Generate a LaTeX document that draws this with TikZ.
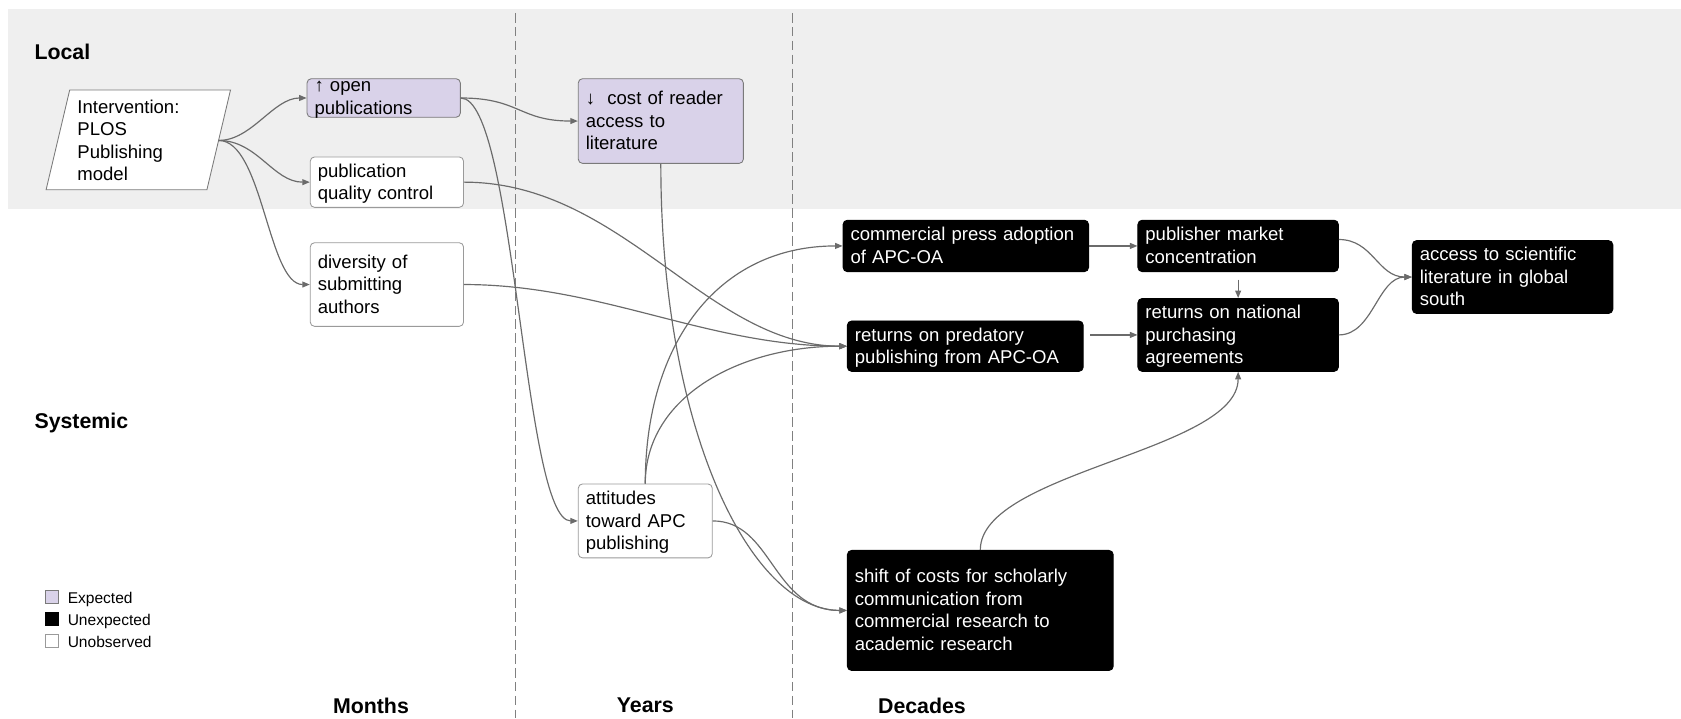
\documentclass[tikz,border=0pt]{standalone}
\usepackage{fontspec}
\setmainfont{Liberation Sans}
\usetikzlibrary{arrows.meta,calc}
\definecolor{bandgray}{HTML}{EFEFEF}
\definecolor{expfill}{HTML}{D9D2E9}
\definecolor{expedge}{HTML}{7A7A7A}
\definecolor{whiteedge}{HTML}{9A9A9A}
\definecolor{conncol}{HTML}{6B6B6B}
\definecolor{dashcol}{HTML}{808080}
\tikzset{
  body/.style={font=\fontsize{17.3}{21}\selectfont},
  cbox/.style={rectangle, rounded corners=4pt, anchor=north west, align=left,
    inner xsep=7pt, inner ysep=1pt, line width=0.8pt, body},
  struts/.style={execute at begin node={\rule{0pt}{15.5pt}},
    execute at end node={\rule[-3.8pt]{0pt}{0pt}}},
  expbox/.style={cbox, struts, draw=expedge, fill=expfill},
  unobsbox/.style={cbox, struts, draw=whiteedge, fill=white},
  unexpbox/.style={cbox, struts, draw=black, fill=black, text=white},
  conn/.style={draw=conncol, line width=1.1pt, -{Triangle[length=7pt,width=5.5pt]}},
  lbl/.style={font=\fontsize{19.9}{24}\selectfont\bfseries, inner sep=0},
  legtxt/.style={font=\fontsize{14.5}{17}\selectfont, anchor=west, inner sep=0},
  legsq/.style={rectangle, minimum size=12pt, inner sep=0, line width=0.7pt},
  dashline/.style={draw=dashcol, line width=1pt, dash pattern=on 9pt off 4pt},
}
\begin{document}
\begin{tikzpicture}[x=1pt,y=-1pt]
\useasboundingbox (0,0) rectangle (1568,670);
% band
\fill[bandgray] (7,8.4) rectangle (1568,195);
% time dividers
\draw[dashline] (481,12) -- (481,670);
\draw[dashline] (739,12) -- (739,670);
% labels
\node[lbl, anchor=west] (local) at (32,48) {Local};
\node[lbl, anchor=west] (systemic) at (32,395) {Systemic};
\node[lbl] (months) at (346,658) {Months};
\node[lbl] (years) at (602,658) {Years};
\node[lbl] (decades) at (860,658) {Decades};
% intervention parallelogram
\draw[draw=expedge, line width=0.8pt, fill=white] (43,177) -- (65,84) -- (215,84) -- (193,177) -- cycle;
\node[body, anchor=west, align=left, inner sep=0] (int) at (72,131) {Intervention:\\PLOS\\Publishing\\model};
\coordinate (intR) at (204,131);
% boxes
\node[cbox, draw=expedge, fill=expfill, inner ysep=0pt, text width=129pt, minimum width=143pt, minimum height=36pt] (op) at (286,73) {↑ open\\\smash{publications}};
\node[unobsbox, text width=129pt, minimum width=143pt, minimum height=47pt] (qc) at (289,146) {publication\\quality control};
\node[unobsbox, text width=129pt, minimum width=143pt, minimum height=78pt] (div) at (289,226) {diversity of\\submitting\\authors};
\node[expbox, text width=140pt, minimum width=154pt, minimum height=79pt] (cost) at (539,73) {↓\ \ cost of reader\\access to\\literature};
\node[unobsbox, text width=111pt, minimum width=125pt, minimum height=69pt] (att) at (539,451) {attitudes\\toward APC\\publishing};
\node[unexpbox, text width=215pt, minimum width=229pt, minimum height=48pt] (comm) at (786,205) {commercial press adoption\\of APC-OA};
\node[unexpbox, text width=206pt, minimum width=220pt, minimum height=47pt] (pred) at (790,299) {returns on predatory\\publishing from APC-OA};
\node[unexpbox, text width=173pt, minimum width=187pt, minimum height=48pt] (pub) at (1061,205) {publisher market\\concentration};
\node[unexpbox, text width=173pt, minimum width=187pt, minimum height=68pt] (nat) at (1061,278) {returns on national\\purchasing\\agreements};
\node[unexpbox, text width=173pt, minimum width=187pt, minimum height=68pt] (acc) at (1317,224) {access to scientific\\literature in global\\south};
\node[unexpbox, text width=234pt, minimum width=248pt, minimum height=112pt] (shift) at (790,513) {shift of costs for scholarly\\communication from\\commercial research to\\academic research};
% connectors
\draw[conn] (intR) .. controls ($(intR)+(31,0)$) and ($(op.west)+(-31,0)$) .. (op.west);
\draw[conn] (intR) .. controls ($(intR)+(36,0)$) and ($(qc.west)+(-34,0)$) .. (qc.west);
\draw[conn] (intR) .. controls ($(intR)+(41,0)$) and ($(div.west)+(-39,0)$) .. (div.west);
\draw[conn] (op.east) .. controls ($(op.east)+(55,0)$) and ($(cost.west)+(-55,0)$) .. (cost.west);
\draw[conn] (op.east) .. controls ($(op.east)+(51,0)$) and ($(att.west)+(-51,0)$) .. (att.west);
\draw[conn] (qc.east) .. controls ($(qc.east)+(148,0)$) and ($(pred.west)+(-130,0)$) .. (pred.west);
\draw[conn] (div.east) .. controls ($(div.east)+(128,0)$) and ($(pred.west)+(-130,0)$) .. (pred.west);
\draw[conn] (att.north) .. controls ($(att.north)+(0,-131)$) and ($(comm.west)+(-116,0)$) .. (comm.west);
\draw[conn] (att.north) .. controls ($(att.north)+(0,-81)$) and ($(pred.west)+(-100,0)$) .. (pred.west);
\draw[conn] (cost.south) .. controls ($(cost.south)+(0,248)$) and ($(shift.west)+(-90,0)$) .. (shift.west);
\draw[conn] (att.east) .. controls ($(att.east)+(56,0)$) and ($(shift.west)+(-70,0)$) .. (shift.west);
\draw[conn] (comm.east) -- (pub.west);
\draw[conn, shorten <=6pt] (pred.east |- nat.west) -- (nat.west);
\draw[conn, shorten <=7pt] (pub.south) -- (nat.north);
\coordinate (pubR) at ([yshift=6pt]pub.east);
\draw[conn] (pubR) .. controls ($(pubR)+(32,0)$) and ($(acc.west)+(-32,0)$) .. (acc.west);
\draw[conn] (nat.east) .. controls ($(nat.east)+(32,0)$) and ($(acc.west)+(-32,0)$) .. (acc.west);
\draw[conn] (shift.north) .. controls ($(shift.north)+(0,-73)$) and ($(nat.south)+(0,74)$) .. (nat.south);
% legend
\node[legsq, draw=expedge, fill=expfill] (lg1) at (48,556.5) {};
\node[legsq, draw=black, fill=black] (lg2) at (48,577) {};
\node[legsq, draw=whiteedge, fill=white] (lg3) at (48,597.5) {};
\node[legtxt] (lt1) at (63,559) {Expected};
\node[legtxt] (lt2) at (63,579.5) {Unexpected};
\node[legtxt] (lt3) at (63,599) {Unobserved};
\end{tikzpicture}
\end{document}
